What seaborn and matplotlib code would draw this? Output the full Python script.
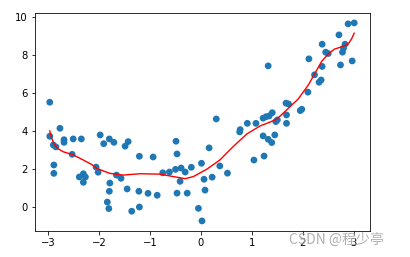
import matplotlib
matplotlib.use("Agg")
import matplotlib.pyplot as plt
import seaborn as sns
import pandas as pd

x_pts = [-2.97, -2.97, -2.77, -2.90, -2.85, -2.69, -2.69, -2.51, -2.35, -2.53,
         -2.89, -2.89, -2.39, -2.31, -2.27, -2.31, -2.06, -2.02, -1.98, -1.91,
         -1.80, -1.71, -1.66, -1.57, -1.79, -1.80, -1.84, -1.81, -1.49, -1.43,
         -1.45, -1.36, -1.21, -1.22, -1.21, -1.04, -0.94, -0.86, -0.75, -0.62,
         -0.50, -0.39, -0.31, -0.19, -0.49, -0.47, -0.41, -0.47, -0.27, 0.01,
         0.06, 0.08, -0.05, 0.02, 0.16, 0.22, 0.30, 0.37, 0.52, 0.77,
         0.76, 0.91, 1.08, 1.04, 1.24, 1.22, 1.32, 1.39, 1.45, 1.22,
         1.28, 1.34, 1.40, 1.32, 1.47, 1.50, 1.67, 1.72, 1.68, 1.68,
         1.95, 1.98, 2.10, 2.12, 2.23, 2.32, 2.36, 2.38, 2.38, 2.45,
         2.50, 2.71, 2.74, 2.78, 2.80, 2.83, 2.89, 3.01, 2.97]
y_pts = [5.51, 3.72, 4.14, 3.26, 3.16, 3.54, 3.40, 3.58, 3.58, 2.77,
         2.21, 1.77, 1.58, 1.75, 1.58, 1.30, 2.10, 1.83, 3.79, 3.33,
         3.58, 3.40, 1.68, 1.51, 1.26, 0.83, 0.26, -0.08, 3.20, 3.44,
         0.95, -0.22, 0.00, 0.83, 2.67, 0.72, 2.63, 0.62, 1.80, 1.84,
         1.98, 2.05, 1.84, 2.09, 3.46, 2.79, 1.35, 0.73, 0.73, 2.30,
         1.46, 0.89, -0.07, -0.73, 3.11, 1.57, 4.63, 2.16, 1.78, 4.07,
         3.95, 4.40, 4.40, 2.47, 2.68, 3.74, 3.56, 3.39, 3.79, 4.67,
         4.75, 4.79, 4.96, 7.42, 4.49, 4.58, 5.46, 5.42, 4.84, 4.40,
         5.07, 5.14, 6.04, 7.79, 6.95, 6.56, 6.68, 7.39, 8.56, 8.14,
         8.07, 9.05, 7.47, 8.14, 8.35, 8.56, 9.63, 9.68, 7.68]

curve_x = [-2.97, -2.93, -2.88, -2.80, -2.70, -2.51, -2.31, -2.15, -2.05, -1.90,
           -1.79, -1.53, -1.20, -0.81, -0.54, -0.31, -0.15, 0.11, 0.37, 0.63,
           0.90, 1.16, 1.36, 1.49, 1.68, 1.91, 2.11, 2.24, 2.37, 2.50,
           2.62, 2.76, 2.89, 2.96, 3.01]
curve_y = [4.00, 3.60, 3.28, 3.05, 2.90, 2.74, 2.47, 2.24, 2.04, 1.88,
           1.77, 1.68, 1.75, 1.73, 1.60, 1.49, 1.60, 1.98, 2.47, 3.17,
           3.84, 4.26, 4.47, 4.62, 5.10, 5.68, 6.42, 7.04, 7.65, 8.05,
           8.30, 8.42, 8.56, 8.85, 9.14]

x_ticks = [-3, -2, -1, 0, 1, 2, 3]
y_ticks = [0, 2, 4, 6, 8, 10]

pts = pd.DataFrame({"x": x_pts, "y": y_pts})
cur = pd.DataFrame({"x": curve_x, "y": curve_y})

fig = plt.figure(figsize=(410 / 72, 257 / 72), dpi=72)
ax = fig.add_axes([35 / 410, 26 / 257, 335 / 410, 218 / 257])

sns.scatterplot(data=pts, x="x", y="y", ax=ax, color="#1f77b4", s=46,
                linewidth=0, edgecolor="none", legend=False)
sns.lineplot(data=cur, x="x", y="y", ax=ax, color="red", linewidth=1.4,
             sort=False, estimator=None)

ax.set_xlim(-3.26, 3.32)
ax.set_ylim(-1.26, 10.2)
ax.set_xticks(x_ticks)
ax.set_yticks(y_ticks)
ax.set_xticklabels([f"{t}".replace("-", "\u2212") for t in x_ticks])
ax.set_xlabel("")
ax.set_ylabel("")
ax.tick_params(labelsize=10)

fig.text(289 / 410, 1 - 240 / 257, "CSDN @程少亭", fontsize=14,
         family=["Noto Sans CJK SC", "DejaVu Sans"], color="#a8a8a8",
         va="center", ha="left", alpha=0.9)

fig.savefig("out.png", dpi=72)
